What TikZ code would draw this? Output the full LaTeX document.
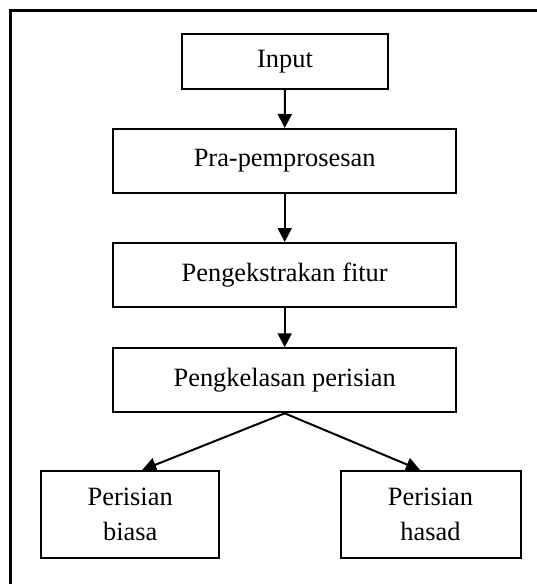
\documentclass[tikz,border=0pt]{standalone}
\usepackage{fontspec}
\setmainfont{Liberation Serif}
\usetikzlibrary{arrows.meta}
\begin{document}
\begin{tikzpicture}[x=1pt,y=-1pt,
  box/.style={draw=black,line width=2pt,rectangle,inner sep=0pt,align=center,
    font=\fontsize{26.4}{34.5}\selectfont},
  conn/.style={line width=2pt,-{Triangle[length=14pt,width=14pt]}},
  frame/.style={draw=black,line width=2.8pt}]
\useasboundingbox (0,0) rectangle (536,584);
\draw[frame] (10.5,10.5) rectangle (570,620);
\node[box,minimum width=206.6pt,minimum height=55.3pt] (input) at (285,61.3) {Input};
\node[box,minimum width=342.7pt,minimum height=64pt] (pra) at (284.7,161) {Pra-pemprosesan};
\node[box,minimum width=342.7pt,minimum height=64pt] (ekst) at (284.7,275) {Pengekstrakan fitur};
\node[box,minimum width=342.7pt,minimum height=64pt] (kelas) at (284.7,380.3) {Pengkelasan perisian};
\node[box,minimum width=178.5pt,minimum height=87pt] (biasa) at (130.2,514.5) {Perisian\\biasa};
\node[box,minimum width=180pt,minimum height=87pt] (hasad) at (430.5,514.5) {Perisian\\hasad};
\draw[conn] (input.south) -- (pra.north);
\draw[conn] (pra.south) -- (ekst.north);
\draw[conn] (ekst.south) -- (kelas.north);
\draw[conn] (kelas.south) -- ([xshift=12pt]biasa.north);
\draw[conn] (kelas.south) -- ([xshift=-10.5pt]hasad.north);
\end{tikzpicture}
\end{document}
